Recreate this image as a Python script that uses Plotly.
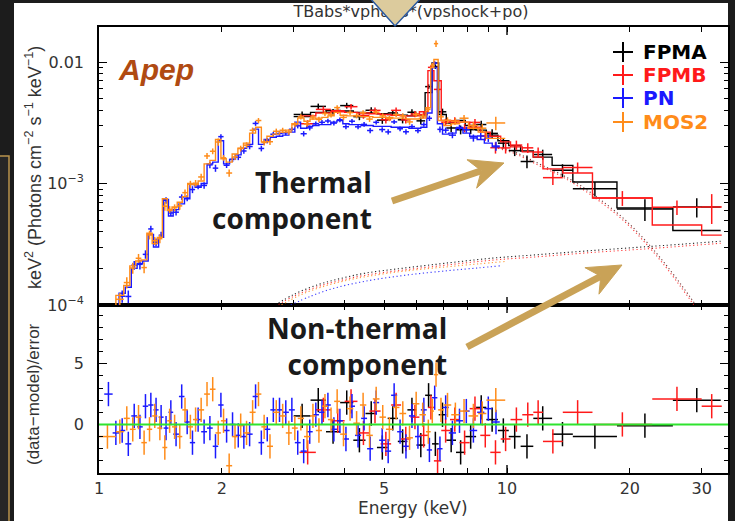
import numpy as np
import plotly.graph_objects as go

# ---------------------------------------------------------------------------
# Apep broadband spectrum: unfolded E^2 F(E) (keV^2 photons cm^-2 s^-1 keV^-1)
# Each instrument: bin edges (keV), folded model per bin, residual
# (data-model)/error per bin and fractional 1-sigma error per bin.
# ---------------------------------------------------------------------------

# XMM-Newton EPIC-pn
pn_edges = [1.03, 1.08, 1.12, 1.16, 1.20, 1.24, 1.28, 1.32, 1.36, 1.40,
            1.44, 1.48, 1.52, 1.57, 1.62, 1.67, 1.72, 1.78, 1.84, 1.90,
            1.96, 2.02, 2.09, 2.16, 2.23, 2.30, 2.38, 2.46, 2.54, 2.63,
            2.72, 2.82, 2.92, 3.02, 3.12, 3.23, 3.34, 3.46, 3.58, 3.70,
            3.83, 3.96, 4.10, 4.24, 4.39, 4.54, 4.70, 4.86, 5.03, 5.20,
            5.38, 5.56, 5.75, 5.95, 6.15, 6.36, 6.55, 6.75, 6.95, 7.20,
            7.50, 7.80, 8.10, 8.45, 8.80, 9.20, 9.60]
pn_model = [6.0e-5, 8.5e-5, 1.25e-4, 1.4e-4, 2.0e-4, 2.2e-4, 2.3e-4, 3.8e-4, 3.0e-4, 3.6e-4,
            7.4e-4, 5.4e-4, 6.1e-4, 6.8e-4, 7.5e-4, 9.8e-4, 9.3e-4, 1.0e-3, 1.45e-3, 1.5e-3,
            2.25e-3, 1.45e-3, 1.58e-3, 1.72e-3, 1.95e-3, 2.1e-3, 2.8e-3, 2.1e-3, 2.3e-3, 2.4e-3,
            2.45e-3, 2.5e-3, 2.65e-3, 3.2e-3, 2.85e-3, 2.95e-3, 3.0e-3, 3.05e-3, 3.05e-3, 3.2e-3,
            3.3e-3, 3.1e-3, 3.05e-3, 3.05e-3, 3.0e-3, 3.0e-3, 2.95e-3, 2.95e-3, 2.95e-3, 2.9e-3,
            2.9e-3, 2.9e-3, 2.85e-3, 2.85e-3, 2.9e-3, 3.8e-3, 9.0e-3, 3.1e-3, 2.55e-3, 2.6e-3,
            2.85e-3, 2.6e-3, 2.45e-3, 2.3e-3, 2.15e-3, 2.0e-3]
pn_resid = [2.5, -0.7, -0.5, -1.6, 0.7, -0.2, 1.5, 1.6, 1.2, 0.6,
            -0.3, 1.0, -0.8, 2.3, 0.2, -1.5, 0.4, -0.6, -0.3, -1.8,
            1.6, -0.5, 0.0, -0.9, -1.0, -0.8, 2.3, -1.5, -0.4, 1.2,
            1.2, 1.0, 1.2, -1.5, -2.2, -0.6, 0.8, 1.0, 1.6, -0.4,
            0.3, -1.2, 1.5, -0.9, 0.5, -2.0, 1.8, -1.3, -2.2, 2.4,
            -0.6, -1.8, 0.7, -1.0, 1.2, -2.1, 2.2, -2.0, 1.4, -0.7,
            0.3, 1.1, -0.5, 1.0, 1.3, 0.2]
pn_frac = ([0.16, 0.13, 0.11, 0.10, 0.09, 0.09, 0.09, 0.07, 0.08, 0.07]
           + [0.06] * 10 + [0.05] * 10 + [0.045] * 26
           + [0.04, 0.05, 0.055, 0.055, 0.05, 0.06, 0.065, 0.07, 0.075, 0.085])

# XMM-Newton EPIC-MOS2
mos2_edges = [1.00, 1.10, 1.15, 1.19, 1.23, 1.27, 1.31, 1.35, 1.39, 1.43,
              1.47, 1.51, 1.555, 1.60, 1.65, 1.70, 1.75, 1.81, 1.87, 1.93,
              1.99, 2.05, 2.12, 2.19, 2.26, 2.34, 2.42, 2.50, 2.58, 2.67,
              2.77, 2.87, 2.97, 3.07, 3.18, 3.29, 3.40, 3.52, 3.64, 3.77,
              3.90, 4.05, 4.20, 4.36, 4.52, 4.69, 4.87, 5.05, 5.25, 5.45,
              5.66, 5.88, 6.10, 6.33, 6.50, 6.62, 6.78, 7.00, 7.30, 7.65,
              8.05, 8.50, 8.90, 9.90]
mos2_model = [7.0e-5, 1.2e-4, 1.45e-4, 2.1e-4, 2.3e-4, 2.35e-4, 3.9e-4, 3.2e-4, 3.6e-4, 7.5e-4,
              6.0e-4, 6.4e-4, 7.0e-4, 7.8e-4, 1.0e-3, 9.8e-4, 1.05e-3, 1.45e-3, 1.55e-3, 2.3e-3,
              1.6e-3, 1.5e-3, 1.75e-3, 1.95e-3, 2.15e-3, 2.6e-3, 2.9e-3, 2.2e-3, 2.45e-3, 2.55e-3,
              2.65e-3, 2.75e-3, 3.1e-3, 3.45e-3, 3.25e-3, 3.4e-3, 3.45e-3, 3.5e-3, 3.6e-3, 3.85e-3,
              3.65e-3, 3.6e-3, 3.6e-3, 3.55e-3, 3.55e-3, 3.5e-3, 3.5e-3, 3.5e-3, 3.45e-3, 3.45e-3,
              3.4e-3, 3.4e-3, 3.45e-3, 4.2e-3, 9.0e-3, 1.05e-2, 3.3e-3, 3.0e-3, 3.1e-3, 3.2e-3,
              2.85e-3, 2.65e-3, 2.35e-3]
mos2_resid = [-1.0, -0.6, 0.5, -0.4, 0.6, -1.5, -0.4, 0.7, -0.3, -1.9,
              0.3, -0.2, -1.0, 1.2, -0.2, 0.4, 1.2, 2.5, 2.9, -0.7,
              0.3, -3.4, -1.0, -0.1, -0.7, 1.0, 2.5, -0.2, -1.8, 1.0,
              0.7, -0.7, -0.3, 0.5, -1.0, 0.7, -0.5, 1.5, 0.4, 1.9,
              -0.8, 1.3, 0.1, 1.6, -0.9, 2.1, 0.6, -0.4, 1.4, 0.9,
              -1.1, 1.7, 0.8, -0.6, 1.1, 4.1, 1.2, 1.6, 0.8, 1.1,
              0.7, 0.9, 2.0]
mos2_frac = ([0.16, 0.12, 0.11, 0.10, 0.09, 0.09, 0.08, 0.08, 0.08, 0.07]
             + [0.065] * 10 + [0.055] * 10 + [0.05] * 24
             + [0.045, 0.085, 0.06, 0.065, 0.065, 0.07, 0.075, 0.085, 0.17])

# NuSTAR FPMA
fpma_edges = [3.00, 3.30, 3.60, 3.90, 4.20, 4.50, 4.80, 5.10, 5.40, 5.70,
              6.00, 6.30, 6.55, 6.80, 7.10, 7.50, 7.90, 8.40, 8.90, 9.50,
              10.10, 10.80, 11.60, 12.90, 14.50, 18.60, 25.50, 33.40]
fpma_model = [3.55e-3, 3.85e-3, 4.0e-3, 3.95e-3, 3.85e-3, 3.8e-3, 3.75e-3, 3.7e-3, 3.65e-3, 3.6e-3,
              3.65e-3, 5.6e-3, 9.8e-3, 3.7e-3, 3.15e-3, 3.3e-3, 3.0e-3, 2.75e-3, 2.5e-3, 2.25e-3,
              2.05e-3, 1.85e-3, 1.65e-3, 1.41e-3, 1.03e-3, 6.3e-4, 4.1e-4]
fpma_resid = [0.7, 2.0, -0.6, 1.8, -1.3, 0.9, -1.9, 0.5, -1.4, 1.2,
              -1.7, 2.4, -1.6, 0.8, -1.3, -2.3, -1.0, 1.4, 0.4, -0.5,
              -1.0, -1.8, 0.5, -0.8, -1.0, -0.1, 2.0]
fpma_frac = ([0.06] * 11 + [0.05, 0.04]
             + [0.065, 0.07, 0.07, 0.075, 0.08, 0.085, 0.09, 0.09, 0.1, 0.1, 0.11, 0.12, 0.2, 0.28])

# NuSTAR FPMB
fpmb_edges = [3.10, 3.40, 3.70, 4.00, 4.30, 4.60, 4.90, 5.20, 5.50, 5.80,
              6.10, 6.40, 6.62, 6.90, 7.25, 7.65, 8.10, 8.60, 9.10, 9.65,
              10.20, 10.90, 11.60, 12.25, 13.70, 16.20, 22.70, 30.00, 33.60]
fpmb_model = [3.6e-3, 3.8e-3, 3.9e-3, 3.85e-3, 3.8e-3, 3.75e-3, 3.7e-3, 3.65e-3, 3.6e-3, 3.6e-3,
              3.9e-3, 8.5e-3, 7.0e-3, 3.3e-3, 3.2e-3, 3.2e-3, 2.9e-3, 2.65e-3, 2.45e-3, 2.2e-3,
              2.0e-3, 1.82e-3, 1.65e-3, 1.32e-3, 1.22e-3, 7.6e-4, 4.55e-4, 3.76e-4]
fpmb_resid = [-2.3, 1.2, 0.3, 1.9, -0.7, 1.1, -1.6, 1.6, -1.2, 0.6,
              -0.9, 1.4, -3.0, -0.5, 0.4, -1.5, 1.3, -0.9, -2.3, -1.2,
              0.4, 0.8, 1.0, -1.4, 1.0, 0.0, 2.1, 1.5]
fpmb_frac = ([0.06] * 11 + [0.045, 0.05]
             + [0.065, 0.07, 0.07, 0.075, 0.08, 0.085, 0.09, 0.09, 0.1, 0.1, 0.11, 0.11, 0.14, 0.19, 0.47])

# Model components (dotted): vpshock (thermal) and power law (non-thermal)
thermal_E = [9.5, 10.5, 12.0, 13.5, 15.0, 17.0, 19.5, 22.0, 24.5, 27.0, 29.0, 31.0, 33.4]
thermal_fpma = [2.0e-3, 1.8e-3, 1.45e-3, 1.2e-3, 9.8e-4, 7.3e-4, 5.0e-4, 3.3e-4, 2.15e-4, 1.4e-4, 1.0e-4, 7.0e-5, 5.0e-5]
thermal_fpmb = [1.95e-3, 1.75e-3, 1.4e-3, 1.16e-3, 9.4e-4, 7.0e-4, 4.8e-4, 3.15e-4, 2.05e-4, 1.33e-4, 9.5e-5, 6.6e-5, 4.7e-5]

po_E_nustar = [2.7, 3.0, 3.4, 3.9, 4.5, 5.5, 7.0, 9.2, 12.0, 16.0, 22.0, 28.0, 33.4]
po_fpma = [1.0e-4, 1.22e-4, 1.45e-4, 1.65e-4, 1.83e-4, 2.0e-4, 2.2e-4, 2.43e-4, 2.6e-4, 2.8e-4, 3.02e-4, 3.2e-4, 3.35e-4]
po_fpmb = [0.97e-4, 1.18e-4, 1.4e-4, 1.59e-4, 1.76e-4, 1.93e-4, 2.12e-4, 2.34e-4, 2.5e-4, 2.7e-4, 2.9e-4, 3.08e-4, 3.22e-4]
po_E_mos2 = [2.8, 3.1, 3.5, 4.0, 4.6, 5.6, 7.0, 8.5, 9.9]
po_mos2 = [1.0e-4, 1.2e-4, 1.4e-4, 1.58e-4, 1.73e-4, 1.9e-4, 2.05e-4, 2.18e-4, 2.28e-4]
po_E_pn = [2.95, 3.3, 3.7, 4.2, 4.8, 5.8, 7.2, 8.5, 9.6]
po_pn = [1.0e-4, 1.18e-4, 1.35e-4, 1.5e-4, 1.63e-4, 1.78e-4, 1.92e-4, 2.02e-4, 2.1e-4]

# axis ticks
x_tick_vals = [1, 2, 5, 10, 20, 30]
x_tick_text = ["1", "2", "5", "10", "20", "30"]
x_minor_vals = [3, 4, 6, 7, 8, 9]
y_tick_vals = [1e-4, 1e-3, 1e-2]
y_tick_text = ["10<sup>\u22124</sup>", "10<sup>\u22123</sup>", "0.01"]
y_minor_vals = [k * 1e-4 for k in range(2, 10)] + [k * 1e-3 for k in range(2, 10)]
r_tick_vals = [0, 5]
r_minor_vals = [-3, -2, -1, 1, 2, 3, 4, 6, 7, 8, 9]

instruments = ["FPMA", "FPMB", "PN", "MOS2"]
colors = {"FPMA": "#000000", "FPMB": "#ff1a1a", "PN": "#1a1aff", "MOS2": "#ff8c1a"}
title_text = "TBabs*vphabs*(vpshock+po)"

# ---------------------------------------------------------------------------
# geometry (pixels): the paper spans y = 0 .. 473, the frame x = 99 .. 728
W, H = 735, 521
L, R, T, B = 99, 728, 27, 473
SPLIT = 305
XRANGE = [0.0, (R - L) / 408.0]
Y2RANGE = [-4.0, -4.0 + (SPLIT - T) / 121.5]
RRANGE = [-4.0, (425 - SPLIT) / 12.2]


def px(x):
    return (x - L) / (R - L)


def py(y):
    return (B - y) / B


fig = go.Figure()


def dotted(xs, ys, color):
    fig.add_trace(go.Scatter(x=xs, y=ys, mode="lines", xaxis="x2", yaxis="y2",
                             line=dict(color=color, width=1.1, dash="1.2px,2.6px", shape="spline"),
                             opacity=0.85, hoverinfo="skip"))


dotted(po_E_pn, po_pn, colors["PN"])
dotted(po_E_mos2, po_mos2, colors["MOS2"])
dotted(po_E_nustar, po_fpmb, colors["FPMB"])
dotted(po_E_nustar, po_fpma, colors["FPMA"])
dotted(thermal_E, thermal_fpmb, colors["FPMB"])
dotted(thermal_E, thermal_fpma, "#5a1010")

HIDDEN = dict(size=1, color="rgba(0,0,0,0)")


def add_instrument(edges, model, resid, frac, color):
    e = np.asarray(edges, float)
    m = np.asarray(model, float)
    r = np.asarray(resid, float)
    f = np.asarray(frac, float)
    c = np.sqrt(e[:-1] * e[1:])
    err = m * f
    data = m + r * err
    ex = dict(type="data", symmetric=False, array=e[1:] - c, arrayminus=c - e[:-1],
              width=0, thickness=1.5, color=color)
    # folded model as a histogram
    fig.add_trace(go.Scatter(x=e, y=np.append(m, m[-1]), mode="lines", xaxis="x2", yaxis="y2",
                             line=dict(color=color, width=1.4, shape="hv"), hoverinfo="skip"))
    # unfolded data
    fig.add_trace(go.Scatter(x=c, y=data, mode="markers", xaxis="x2", yaxis="y2",
                             marker=HIDDEN, error_x=ex,
                             error_y=dict(type="data", array=err, width=0, thickness=1.5, color=color)))
    # residuals
    fig.add_trace(go.Scatter(x=c, y=r, mode="markers", xaxis="x", yaxis="y",
                             marker=HIDDEN, error_x=ex,
                             error_y=dict(type="data", array=np.ones_like(r), width=0,
                                          thickness=1.5, color=color)))


add_instrument(fpma_edges, fpma_model, fpma_resid, fpma_frac, colors["FPMA"])
add_instrument(fpmb_edges, fpmb_model, fpmb_resid, fpmb_frac, colors["FPMB"])
add_instrument(pn_edges, pn_model, pn_resid, pn_frac, colors["PN"])
add_instrument(mos2_edges, mos2_model, mos2_resid, mos2_frac, colors["MOS2"])

# plot title in a thin strip above the frame (a trace, so the marker shape can sit on top)
fig.add_trace(go.Scatter(x=[px(411)], y=[0.5], mode="text", text=[title_text],
                         xaxis="x3", yaxis="y3", cliponaxis=False, hoverinfo="skip",
                         textfont=dict(family="DejaVu Sans", size=16, color="#333333")))

tickfont = dict(family="DejaVu Sans", size=16, color="#333333")
common_x = dict(type="log", range=XRANGE, showgrid=False, zeroline=False, showline=True,
                linecolor="black", linewidth=1.6, mirror="ticks", ticks="inside", ticklen=5,
                tickwidth=1.3, tickcolor="black", tickmode="array", tickvals=x_tick_vals,
                ticktext=x_tick_text,
                minor=dict(tickmode="array", tickvals=x_minor_vals, ticks="inside", ticklen=5,
                           tickwidth=1.2, tickcolor="black", showgrid=False))

fig.update_layout(
    width=W, height=H,
    margin=dict(l=L, r=W - R, t=0, b=H - B, pad=0),
    paper_bgcolor="#1c1c1c", plot_bgcolor="rgba(0,0,0,0)", showlegend=False,
    xaxis=dict(common_x, anchor="y", domain=[0, 1], tickfont=tickfont, ticklabelstandoff=0),
    xaxis2=dict(common_x, anchor="y2", matches="x", showticklabels=False),
    yaxis=dict(domain=[0, py(SPLIT)], range=RRANGE, anchor="x", showgrid=False, zeroline=False,
               showline=True, linecolor="black", linewidth=1.6, mirror="ticks", ticks="inside",
               ticklen=8, tickwidth=1.3, tickcolor="black", tickmode="array", tickvals=r_tick_vals,
               tickfont=tickfont, ticklabelstandoff=10,
               minor=dict(tickmode="array", tickvals=r_minor_vals, ticks="inside", ticklen=4,
                          tickwidth=1.2, tickcolor="black", showgrid=False)),
    yaxis2=dict(domain=[py(SPLIT), py(T)], type="log", range=Y2RANGE, anchor="x2", showgrid=False,
                zeroline=False, showline=True, linecolor="black", linewidth=1.6, mirror="ticks",
                ticks="inside", ticklen=8, tickwidth=1.3, tickcolor="black", tickmode="array",
                tickvals=y_tick_vals, ticktext=y_tick_text, tickfont=tickfont, ticklabelstandoff=10,
                minor=dict(tickmode="array", tickvals=y_minor_vals, ticks="inside", ticklen=4,
                           tickwidth=1.2, tickcolor="black", showgrid=False)),
    xaxis3=dict(domain=[0, 1], range=[0, 1], anchor="y3", visible=False),
    yaxis3=dict(domain=[py(25), py(1)], range=[0, 1], anchor="x3", visible=False),
)

shapes = []
# white page behind the figure and a neighbouring framed panel at the far left
shapes.append(dict(type="rect", xref="paper", yref="paper", x0=px(14), x1=px(R), y0=py(H + 2),
                   y1=py(3), fillcolor="white", line=dict(width=0), layer="below"))
shapes.append(dict(type="rect", xref="paper", yref="paper", x0=px(-4), x1=px(9), y0=py(H + 5),
                   y1=py(156), fillcolor="#262626", line=dict(color="#b8924c", width=1.5),
                   layer="below"))
# zero line of the residual panel
shapes.append(dict(type="line", xref="paper", yref="y", x0=0, x1=1, y0=0, y1=0,
                   line=dict(color="#2fe32f", width=2), layer="above"))
# longer decade ticks at 10 keV
for y0, y1 in [(T, T + 8), (SPLIT - 8, SPLIT + 8), (B - 8, B)]:
    shapes.append(dict(type="line", xref="x", yref="paper", x0=10, x1=10, y0=py(y0), y1=py(y1),
                       line=dict(color="black", width=1.4), layer="above"))

# callout arrows
ARROW = "#c9a257"


def arrow(tail, tip, head_len=34, half_w=15, notch=10, shaft=7):
    (sx, sy), (tx, ty) = tail, tip
    d = np.array([tx - sx, ty - sy], float)
    u = d / np.hypot(*d)
    n = np.array([-u[1], u[0]])
    base = np.array([tx, ty]) - head_len * u
    b1 = base + half_w * n
    b2 = base - half_w * n
    nt = np.array([tx, ty]) - (head_len - notch) * u
    shapes.append(dict(type="line", xref="paper", yref="paper", x0=px(sx), y0=py(sy),
                       x1=px(nt[0]), y1=py(nt[1]), line=dict(color=ARROW, width=shaft),
                       layer="above"))
    pts = [(tx, ty), tuple(b1), tuple(nt), tuple(b2)]
    path = "M " + " L ".join(f"{px(x):.5f},{py(y):.5f}" for x, y in pts) + " Z"
    shapes.append(dict(type="path", xref="paper", yref="paper", path=path, fillcolor=ARROW,
                       line=dict(color=ARROW, width=1), layer="above"))


arrow((392, 201), (504, 163))
arrow((467, 347), (622, 265))

# pointer marker at the top edge
tri = [(369, -3), (422, -3), (395, 26)]
shapes.append(dict(type="path", xref="paper", yref="paper",
                   path="M " + " L ".join(f"{px(x):.5f},{py(y):.5f}" for x, y in tri) + " Z",
                   fillcolor="#dccb9d", line=dict(color="#2c5aa0", width=1.5), layer="above"))

# legend crosses
legend_y = [52, 75, 98, 122]
for name, y in zip(instruments, legend_y):
    c = colors[name]
    shapes.append(dict(type="line", xref="paper", yref="paper", x0=px(613), x1=px(633),
                       y0=py(y), y1=py(y), line=dict(color=c, width=2), layer="above"))
    shapes.append(dict(type="line", xref="paper", yref="paper", x0=px(623), x1=px(623),
                       y0=py(y - 10), y1=py(y + 10), line=dict(color=c, width=2), layer="above"))

annotations = []


def note(text, x, y, size, color="#1a1a1a", family="DejaVu Sans", xanchor="center",
         yanchor="middle", angle=0, align="center"):
    annotations.append(dict(text=text, x=px(x), y=py(y), xref="paper", yref="paper",
                            showarrow=False, xanchor=xanchor, yanchor=yanchor, textangle=angle,
                            align=align, borderpad=0,
                            font=dict(family=family, size=size, color=color)))


for name, y in zip(instruments, legend_y):
    note(f"<b>{name}</b>", 642, y, 20, color=colors[name], xanchor="left")

note("<b><i>Apep</i></b>", 156, 69, 30, color="#b04a12", family="Liberation Sans")
note("<b>Thermal<br>component</b>", 373, 200, 28, family="Open Sans", xanchor="right",
     align="right")
note("<b>Non-thermal<br>component</b>", 448, 346, 28, family="Open Sans", xanchor="right",
     align="right")

note("Energy (keV)", 413, 508, 17, color="#333333")
note("keV<sup>2</sup> (Photons cm<sup>\u22122</sup> s<sup>\u22121</sup> keV<sup>\u22121</sup>)",
     33, 168, 18, color="#333333", family="Liberation Sans", angle=-90)
note("(data\u2212model)/error", 33, 394, 17, color="#333333", family="Liberation Sans", angle=-90)

fig.update_layout(shapes=shapes, annotations=annotations)

fig.write_html("out.html", config={"displayModeBar": False})
